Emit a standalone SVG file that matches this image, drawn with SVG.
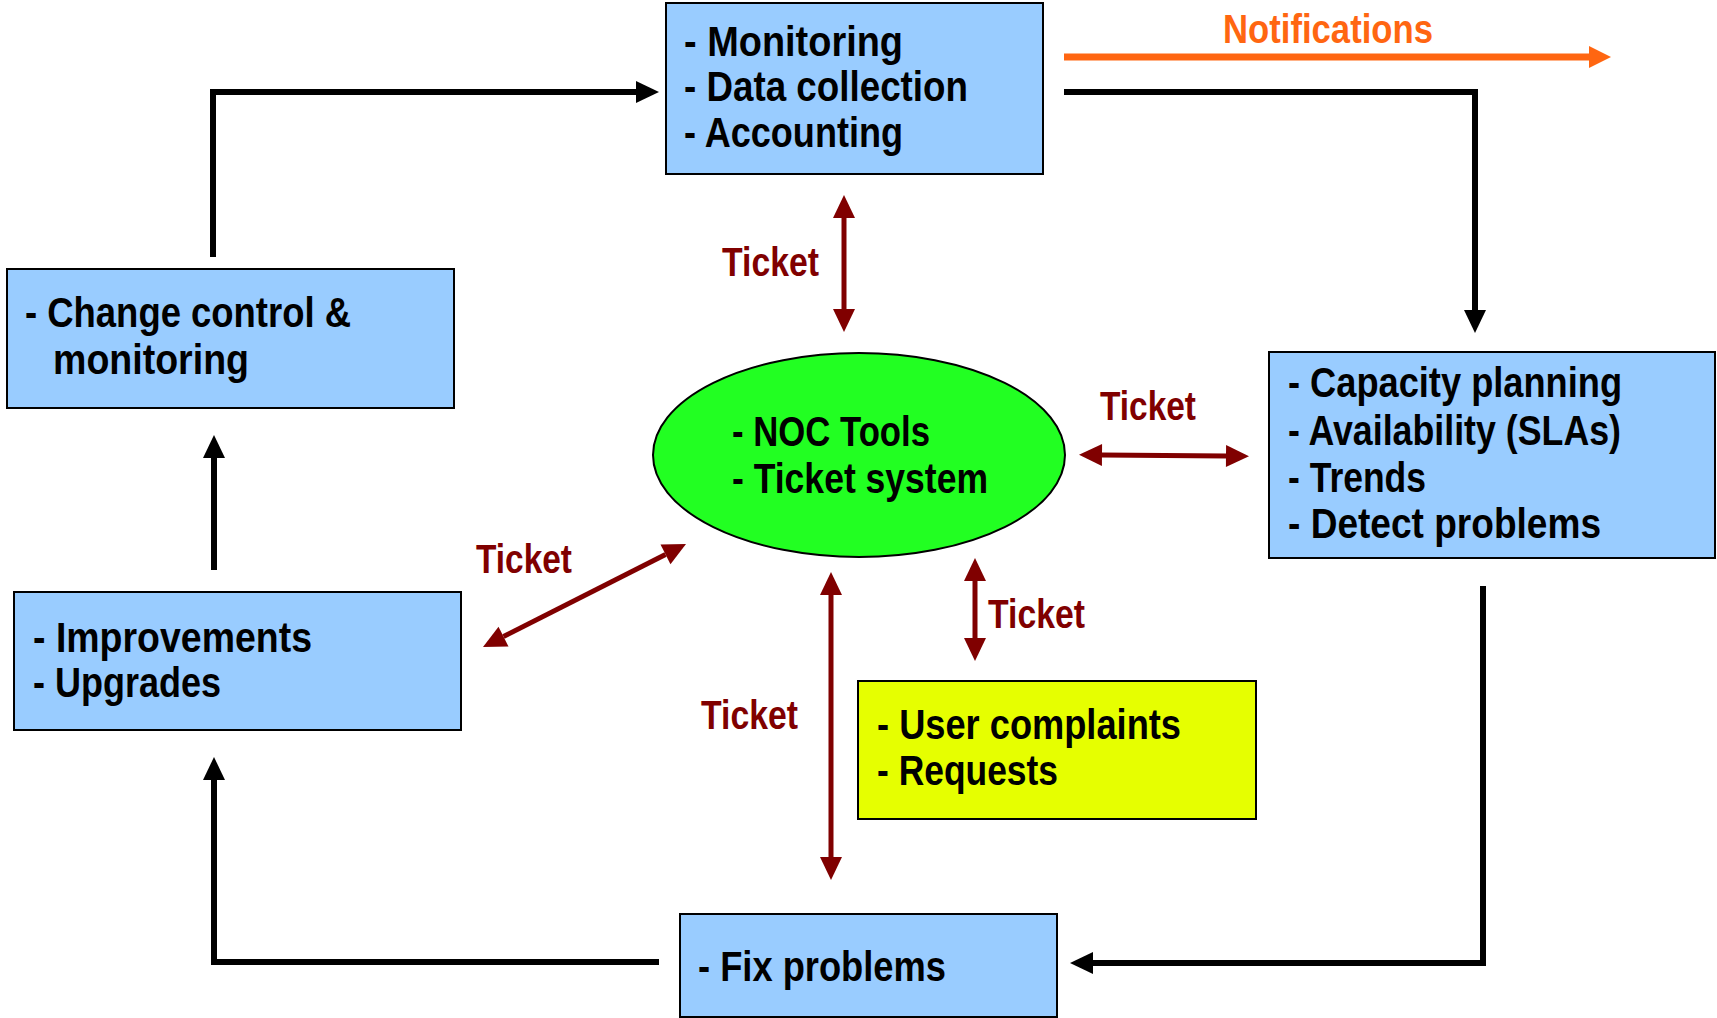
<svg xmlns="http://www.w3.org/2000/svg" width="1717" height="1018" viewBox="0 0 1717 1018">
<style>
  .box { fill: #99CCFF; stroke: #000; stroke-width: 2; }
  .t { font-family: "Liberation Sans", Arial, sans-serif; font-weight: bold; font-size: 42px; fill: #000; }
  .tk { font-family: "Liberation Sans", Arial, sans-serif; font-weight: bold; font-size: 41px; fill: #800000; }
  .nt { font-family: "Liberation Sans", Arial, sans-serif; font-weight: bold; font-size: 41px; fill: #FF6611; }
  .flow { fill: none; stroke: #000; stroke-width: 6; marker-end: url(#ab); }
  .tick { fill: none; stroke: #800000; stroke-width: 5; marker-start: url(#ar); marker-end: url(#ar); }
</style>
<defs>
  <marker id="ab" markerUnits="userSpaceOnUse" viewBox="-1 -12 25 24" refX="0" refY="0" markerWidth="25" markerHeight="24" orient="auto">
    <path d="M0,-11 L23,0 L0,11 z" fill="#000"/>
  </marker>
  <marker id="ar" markerUnits="userSpaceOnUse" viewBox="-1 -12 25 24" refX="0" refY="0" markerWidth="25" markerHeight="24" orient="auto-start-reverse">
    <path d="M0,-11 L23,0 L0,11 z" fill="#800000"/>
  </marker>
  <marker id="ao" markerUnits="userSpaceOnUse" viewBox="-1 -12 25 24" refX="0" refY="0" markerWidth="25" markerHeight="24" orient="auto">
    <path d="M0,-11 L22,0 L0,11 z" fill="#FF6611"/>
  </marker>
</defs>

<g id="connectors">
  <path class="flow" d="M213,257 V92 H636"/>
  <path class="flow" d="M1064,92 H1475 V310"/>
  <path class="flow" d="M1483,586 V963 H1093"/>
  <path class="flow" d="M659,962 H214 V780"/>
  <path class="flow" d="M214,570 V458"/>
  <path d="M1064,57 H1589" fill="none" stroke="#FF6611" stroke-width="7" marker-end="url(#ao)"/>
  <path class="tick" d="M844,218 V309"/>
  <path class="tick" d="M1102,455 L1226,456"/>
  <path class="tick" d="M503.5,636.6 L665.5,554.4"/>
  <path class="tick" d="M831,595 V857"/>
  <path class="tick" d="M975,581 V638"/>
</g>

<g id="labels">
  <text class="nt" x="1223" y="43" textLength="210" lengthAdjust="spacingAndGlyphs">Notifications</text>
  <text class="tk" x="722" y="276" textLength="97" lengthAdjust="spacingAndGlyphs">Ticket</text>
  <text class="tk" x="1100" y="420" textLength="96" lengthAdjust="spacingAndGlyphs">Ticket</text>
  <text class="tk" x="476" y="573" textLength="96" lengthAdjust="spacingAndGlyphs">Ticket</text>
  <text class="tk" x="701" y="729" textLength="97" lengthAdjust="spacingAndGlyphs">Ticket</text>
  <text class="tk" x="988" y="628" textLength="97" lengthAdjust="spacingAndGlyphs">Ticket</text>
</g>

<g id="monitoring">
  <rect class="box" x="666" y="3" width="377" height="171"/>
  <text class="t" x="684" y="56" textLength="219" lengthAdjust="spacingAndGlyphs">- Monitoring</text>
  <text class="t" x="684" y="101" textLength="284" lengthAdjust="spacingAndGlyphs">- Data collection</text>
  <text class="t" x="684" y="147" textLength="219" lengthAdjust="spacingAndGlyphs">- Accounting</text>
</g>

<g id="change-control">
  <rect class="box" x="7" y="269" width="447" height="139"/>
  <text class="t" x="25" y="327" textLength="326" lengthAdjust="spacingAndGlyphs">- Change control &amp;</text>
  <text class="t" x="53" y="374" textLength="196" lengthAdjust="spacingAndGlyphs">monitoring</text>
</g>

<g id="improvements">
  <rect class="box" x="14" y="592" width="447" height="138"/>
  <text class="t" x="33" y="652" textLength="279" lengthAdjust="spacingAndGlyphs">- Improvements</text>
  <text class="t" x="33" y="697" textLength="188" lengthAdjust="spacingAndGlyphs">- Upgrades</text>
</g>

<g id="capacity">
  <rect class="box" x="1269" y="352" width="446" height="206"/>
  <text class="t" x="1288" y="397" textLength="334" lengthAdjust="spacingAndGlyphs">- Capacity planning</text>
  <text class="t" x="1288" y="445" textLength="333" lengthAdjust="spacingAndGlyphs">- Availability (SLAs)</text>
  <text class="t" x="1288" y="492" textLength="138" lengthAdjust="spacingAndGlyphs">- Trends</text>
  <text class="t" x="1288" y="538" textLength="313" lengthAdjust="spacingAndGlyphs">- Detect problems</text>
</g>

<g id="noc-tools">
  <ellipse cx="859" cy="455" rx="206" ry="102" fill="#22FF22" stroke="#000" stroke-width="2"/>
  <text class="t" x="732" y="446" textLength="198" lengthAdjust="spacingAndGlyphs">- NOC Tools</text>
  <text class="t" x="732" y="493" textLength="256" lengthAdjust="spacingAndGlyphs">- Ticket system</text>
</g>

<g id="user-complaints">
  <rect x="858" y="681" width="398" height="138" fill="#E6FF00" stroke="#000" stroke-width="2"/>
  <text class="t" x="877" y="739" textLength="304" lengthAdjust="spacingAndGlyphs">- User complaints</text>
  <text class="t" x="877" y="785" textLength="181" lengthAdjust="spacingAndGlyphs">- Requests</text>
</g>

<g id="fix-problems">
  <rect class="box" x="680" y="914" width="377" height="103"/>
  <text class="t" x="698" y="981" textLength="248" lengthAdjust="spacingAndGlyphs">- Fix problems</text>
</g>
</svg>
